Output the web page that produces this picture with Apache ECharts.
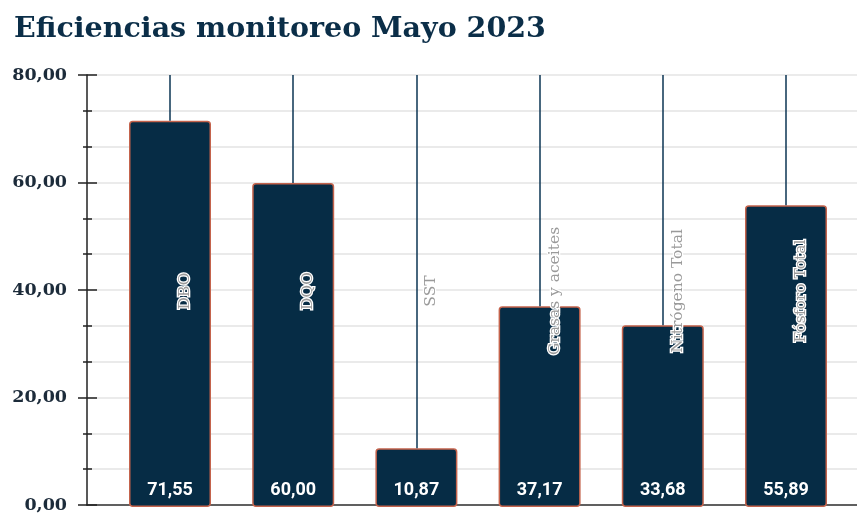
<!DOCTYPE html>
<html>
<head>
<meta charset="utf-8">
<script src="https://cdn.jsdelivr.net/npm/echarts@6/dist/echarts.min.js"></script>
<style>
  html, body { margin: 0; padding: 0; background: #fff; }
  #chart { width: 857px; height: 514px; }
</style>
</head>
<body>
<div id="chart"></div>
<script>
const categories = ['DBO', 'DQO', 'SST', 'Grasas y aceites', 'Nitrógeno Total', 'Fósforo Total']
const eficiencias = [71.55, 60.00, 10.87, 37.17, 33.68, 55.89]
const yMin = 0
const yMax = 80
const yStep = 20

const navy = '#062c45'
const fmt = v => v.toFixed(2).replace('.', ',')

const chart = echarts.init(document.getElementById('chart'))

chart.setOption({
  animation: false,
  title: {
    text: 'Eficiencias monitoreo Mayo 2023',
    left: 9,
    top: 10,
    textStyle: {
      fontFamily: 'DejaVu Serif',
      fontWeight: 'bold',
      fontSize: 28.5,
      color: '#0b2e48'
    }
  },
  grid: [
    { left: 87, right: 0, top: 75, height: 432 },
    { left: 108.4, right: 9.4, top: 75, height: 432 }
  ],
  xAxis: [{
    gridIndex: 0,
    type: 'value',
    min: 0,
    max: 1,
    axisLine: { show: true, onZero: false, lineStyle: { color: '#333', width: 1.5 } },
    axisTick: { show: false },
    axisLabel: { show: false },
    splitLine: { show: false }
  }, {
    gridIndex: 1,
    type: 'category',
    data: categories,
    show: false
  }],
  yAxis: [{
    // etiquetas + marcas hacia afuera
    gridIndex: 0,
    type: 'value',
    min: yMin,
    max: yMax,
    interval: yStep,
    axisLine: { show: true, lineStyle: { color: '#222', width: 1.5 } },
    axisTick: { show: true, length: 9, lineStyle: { color: '#222', width: 1.5 } },
    minorTick: { show: true, splitNumber: 3, length: 4, lineStyle: { color: '#222', width: 1.5 } },
    axisLabel: {
      margin: 20,
      formatter: fmt,
      fontFamily: 'DejaVu Serif',
      fontWeight: 'bold',
      fontSize: 17.5,
      color: '#1c2b3a'
    },
    splitLine: { show: true, lineStyle: { color: '#e4e4e4', width: 1.5 } },
    minorSplitLine: { show: true, lineStyle: { color: '#e4e4e4', width: 1.5 } }
  }, {
    // marcas hacia adentro
    gridIndex: 0,
    type: 'value',
    position: 'left',
    min: yMin,
    max: yMax,
    interval: yStep,
    axisLine: { show: false },
    axisTick: { show: true, inside: true, length: 10, lineStyle: { color: '#222', width: 1.5 } },
    minorTick: { show: true, splitNumber: 3, length: 5, lineStyle: { color: '#222', width: 1.5 } },
    axisLabel: { show: false },
    splitLine: { show: false }
  }, {
    gridIndex: 1,
    type: 'value',
    min: yMin,
    max: yMax,
    show: false
  }],
  series: [{
    name: 'Eficiencia',
    type: 'bar',
    xAxisIndex: 1,
    yAxisIndex: 2,
    barWidth: 82,
    data: eficiencias,
    itemStyle: {
      color: navy,
      borderColor: '#c4634c',
      borderWidth: 1.5,
      borderRadius: 3
    },
    label: {
      show: true,
      position: 'insideBottom',
      distance: 8,
      formatter: p => fmt(p.value),
      fontFamily: 'Roboto',
      fontWeight: 'bold',
      fontSize: 18,
      color: '#fff'
    },
    markLine: {
      silent: true,
      symbol: 'none',
      label: { show: false },
      lineStyle: { color: '#0b3553', width: 1.5, type: 'solid' },
      data: categories.map((c, i) => [
        { coord: [c, eficiencias[i]] },
        { coord: [c, yMax] }
      ])
    }
  }, {
    // nombres de parámetros, centrados en la altura del eje
    name: 'nombres',
    type: 'bar',
    xAxisIndex: 1,
    yAxisIndex: 2,
    barWidth: 82,
    barGap: '-100%',
    silent: true,
    data: categories.map(() => yMax),
    itemStyle: { color: 'transparent' },
    label: {
      show: true,
      position: 'inside',
      rotate: 90,
      offset: [0, 15],
      formatter: '{b}',
      fontFamily: 'DejaVu Serif',
      fontSize: 15.5,
      color: '#9a9a9a',
      textBorderColor: '#fff',
      textBorderWidth: 2.5
    }
  }]
})
</script>
</body>
</html>
